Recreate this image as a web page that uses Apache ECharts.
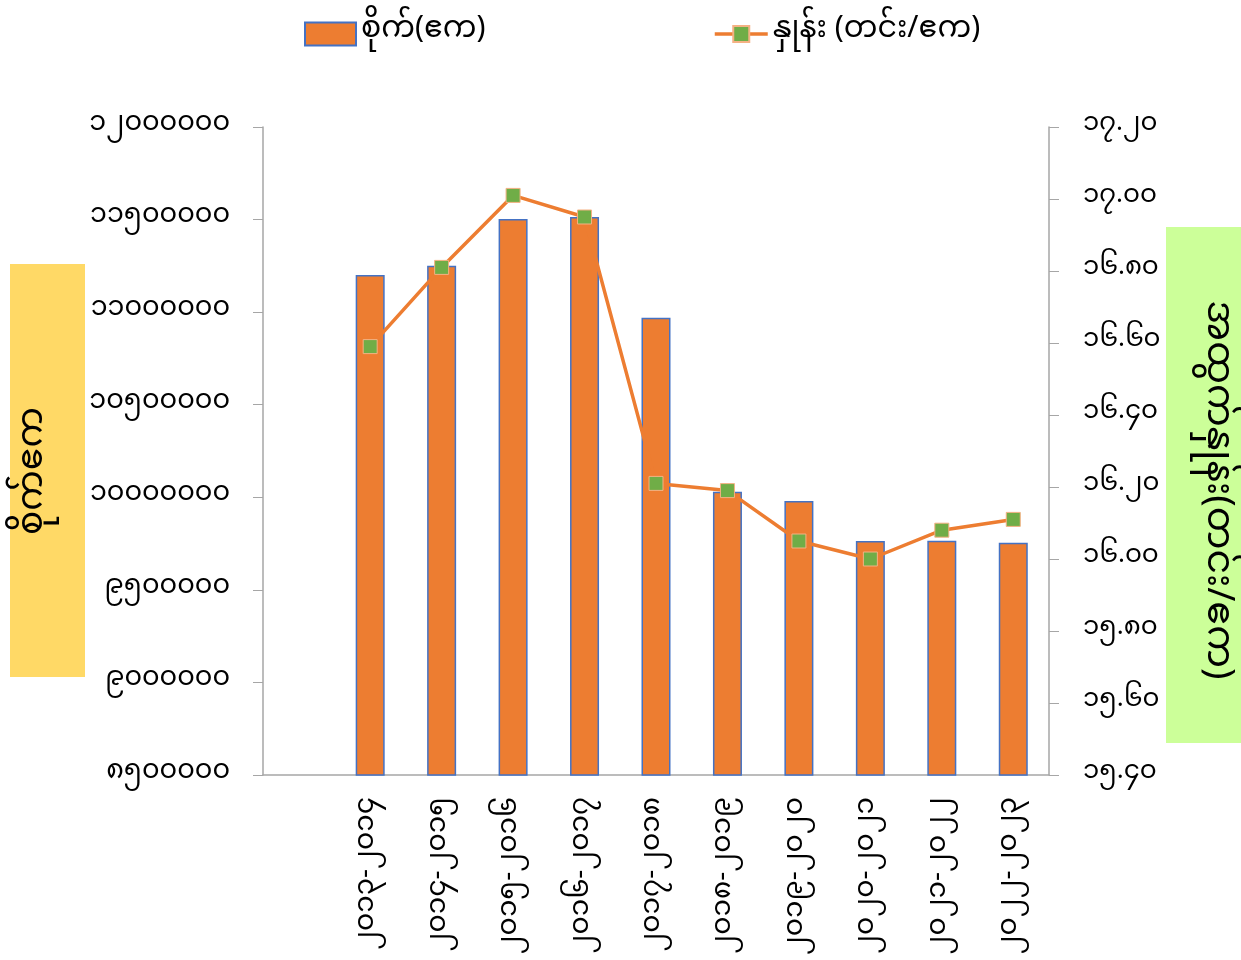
<!DOCTYPE html>
<html>
	<head>
		<meta charset="utf-8" />
		<title>စိုက်ဧက နှင့် အထွက်နှုန်း</title>
		<style type="text/css">
			body,
			html,
			#chart {
				width: 100%;
				height: 100%;
				overflow: hidden;
				margin: 0;
				background: #fff;
			}
		</style>
	</head>
	<body>
		<div id="chart"></div>
		<script src="https://cdn.jsdelivr.net/npm/echarts@6/dist/echarts.min.js"></script>
		<script>
			// ဒေတာ
			var years = ['', '၂၀၁၃-၂၀၁၄', '၂၀၁၄-၂၀၁၅', '၂၀၁၅-၂၀၁၆', '၂၀၁၆-၂၀၁၇', '၂၀၁၇-၂၀၁၈',
				'၂၀၁၈-၂၀၁၉', '၂၀၁၉-၂၀၂၀', '၂၀၂၀-၂၀၂၁', '၂၀၂၁-၂၀၂၂', '၂၀၂၂-၂၀၂၃'];
			var sownAcres = [null, 11200000, 11251000, 11503000, 11514000, 10970000,
				10030000, 9980000, 9764000, 9765000, 9755000];
			var yieldPerAcre = [null, 16.59, 16.81, 17.01, 16.95, 16.21,
				16.19, 16.05, 16.00, 16.08, 16.11];
			var leftTicks = ['၈၅၀၀၀၀၀', '၉၀၀၀၀၀၀', '၉၅၀၀၀၀၀', '၁၀၀၀၀၀၀၀', '၁၀၅၀၀၀၀၀',
				'၁၁၀၀၀၀၀၀', '၁၁၅၀၀၀၀၀', '၁၂၀၀၀၀၀၀'];
			var rightTicks = ['၁၅.၄၀', '၁၅.၆၀', '၁၅.၈၀', '၁၆.၀၀', '၁၆.၂၀',
				'၁၆.၄၀', '၁၆.၆၀', '၁၆.၈၀', '၁၇.၀၀', '၁၇.၂၀'];
			var barName = 'စိုက်(ဧက)';
			var lineName = 'နှုန်း (တင်း/ဧက)';

			var font = '"Noto Sans Myanmar", "Myanmar Text", Padauk, "Noto Sans", sans-serif';
			var axisGray = '#A6A6A6';

			var chart = echarts.init(document.getElementById('chart'));
			var option = {
				backgroundColor: '#fff',
				textStyle: { fontFamily: font, color: '#000' },
				legend: [
					{
						data: [{ name: barName, icon: 'rect' }],
						left: 299,
						top: 14,
						itemWidth: 51,
						itemHeight: 23,
						textStyle: { fontSize: 30, fontFamily: font, color: '#000' }
					},
					{
						data: [lineName],
						left: 708,
						top: 14,
						itemWidth: 53,
						itemHeight: 20,
						lineStyle: { width: 3.5 },
						textStyle: { fontSize: 30, fontFamily: font, color: '#000' }
					}
				],
				grid: { left: 263, right: 192, top: 127, bottom: 185 },
				xAxis: {
					type: 'category',
					data: years,
					axisLine: { lineStyle: { color: axisGray, width: 1.5 } },
					axisTick: { length: 10, lineStyle: { color: axisGray } },
					axisLabel: {
						rotate: 90,
						fontSize: 28,
						margin: 22,
						color: '#000',
						interval: 0,
						fontFamily: font
					}
				},
				yAxis: [
					{
						type: 'value',
						min: 8500000,
						max: 12000000,
						interval: 500000,
						splitLine: { show: false },
						axisLine: { show: true, lineStyle: { color: axisGray, width: 1.5 } },
						axisTick: { show: true, length: 10, lineStyle: { color: axisGray } },
						axisLabel: {
							fontSize: 27,
							margin: 33,
							color: '#000',
							fontFamily: font,
							formatter: function (v) {
								return leftTicks[Math.round((v - 8500000) / 500000)];
							}
						}
					},
					{
						type: 'value',
						min: 15.4,
						max: 17.2,
						interval: 0.2,
						splitLine: { show: false },
						axisLine: { show: true, lineStyle: { color: axisGray, width: 1.5 } },
						axisTick: { show: true, length: 10, lineStyle: { color: axisGray } },
						axisLabel: {
							fontSize: 26,
							margin: 34,
							color: '#000',
							fontFamily: font,
							formatter: function (v) {
								return rightTicks[Math.round((v - 15.4) / 0.2)];
							}
						}
					}
				],
				series: [
					{
						name: barName,
						type: 'bar',
						yAxisIndex: 0,
						data: sownAcres,
						barWidth: 29,
						itemStyle: {
							color: '#ED7D31',
							borderColor: '#4472C4',
							borderWidth: 1.5
						}
					},
					{
						name: lineName,
						type: 'line',
						yAxisIndex: 1,
						data: yieldPerAcre,
						symbol: 'rect',
						symbolSize: 14,
						lineStyle: { color: '#ED7D31', width: 3.5 },
						itemStyle: {
							color: '#70AD47',
							borderColor: '#F4B183',
							borderWidth: 1
						}
					}
				],
				// ဝင်ရိုးအမည်ဘောက်စ်များ
				graphic: [
					{
						type: 'rect',
						left: 10,
						top: 264,
						shape: { width: 75, height: 413 },
						style: { fill: '#FFD966' }
					},
					{
						type: 'text',
						x: 38,
						y: 471,
						rotation: Math.PI / 2,
						style: {
							text: 'စိုက်ဧက',
							fontSize: 36,
							fontFamily: font,
							fill: '#000',
							align: 'center',
							verticalAlign: 'middle'
						}
					},
					{
						type: 'rect',
						left: 1166,
						top: 227,
						shape: { width: 75, height: 516 },
						style: { fill: '#CCFF99' }
					},
					{
						type: 'text',
						x: 1212,
						y: 490,
						rotation: -Math.PI / 2,
						style: {
							text: 'အထွက်နှုန်း(တင်း/ဧက)',
							fontSize: 38,
							fontFamily: font,
							fill: '#000',
							align: 'center',
							verticalAlign: 'middle'
						}
					}
				]
			};
			chart.setOption(option);
		</script>
	</body>
</html>
